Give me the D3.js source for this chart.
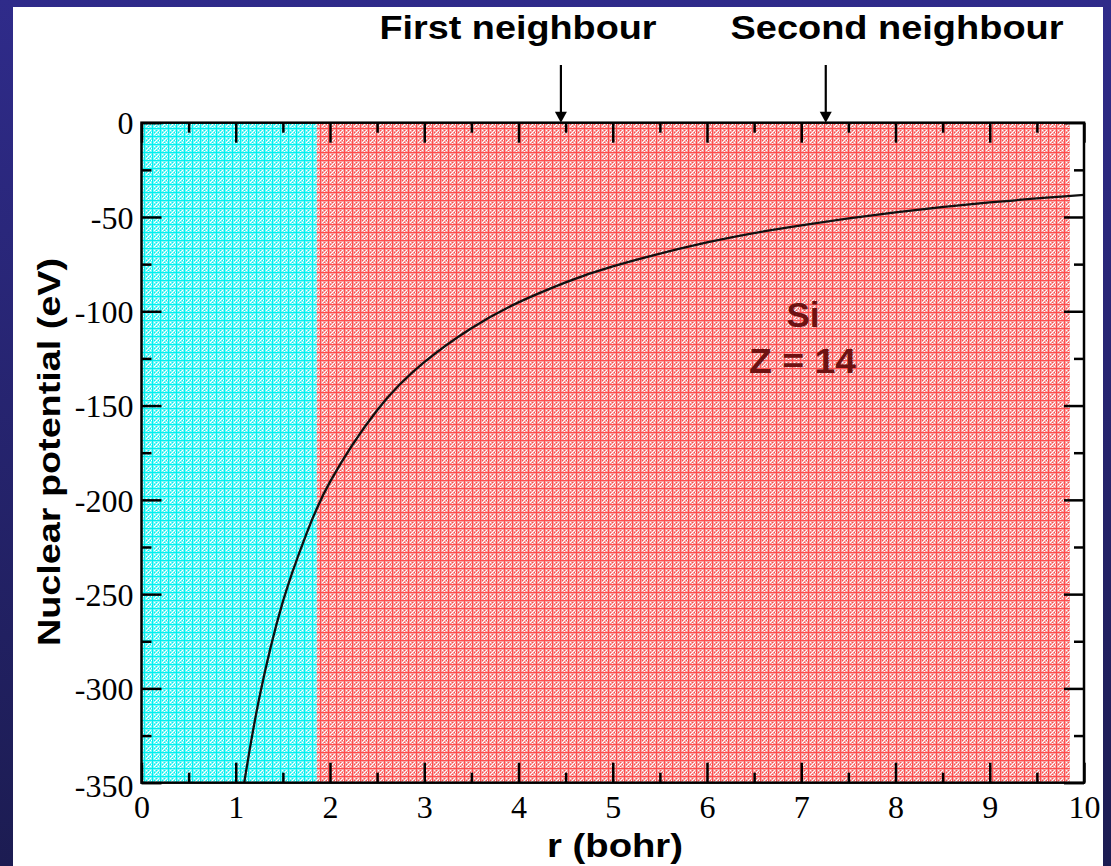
<!DOCTYPE html>
<html>
<head>
<meta charset="utf-8">
<script src="https://cdn.jsdelivr.net/npm/d3@7"></script>
<style>
  html, body { margin: 0; padding: 0; background: #2a2878; }
  svg { display: block; }
</style>
</head>
<body>
<svg id="chart" width="1111" height="866"></svg>
<script>
// Nuclear potential of Si (Z = 14) versus radial distance
const rValues = [1.09, 1.25, 1.5, 1.75, 2.0, 2.5, 3.0, 3.5, 4.0, 4.5, 5.0, 6.0, 7.0, 8.0, 9.0, 10.0];
const potential = [-350, -305, -254, -218, -190.5, -152.5, -127, -109, -95.3, -84.7, -76.2, -63.5, -54.4, -47.6, -42.3, -38.3];

// Shaded regions along r: core (cyan) and outer (red)
const regions = [
  { name: "core", from: 0, to: 1.86 },
  { name: "outer", from: 1.86, to: 9.85 }
];

// Neighbour shell markers
const neighbourLabels = ["First neighbour", "Second neighbour"];
const neighbourR = [4.45, 7.26];

const xTicks = [0, 1, 2, 3, 4, 5, 6, 7, 8, 9, 10];
const yTicks = [0, -50, -100, -150, -200, -250, -300, -350];

const svg = d3.select("#chart");
const W = 1111, H = 866;

const defs = svg.append("defs");

// Slide background: blue gradient frame
const bg = defs.append("linearGradient").attr("id", "bgGrad")
  .attr("x1", 0).attr("y1", 0).attr("x2", 0).attr("y2", 1);
bg.append("stop").attr("offset", "0%").attr("stop-color", "#2f2b8a");
bg.append("stop").attr("offset", "100%").attr("stop-color", "#1c1c52");

// Dithered fill patterns
function makePattern(id, base, solid) {
  const p = defs.append("pattern").attr("id", id)
    .attr("patternUnits", "userSpaceOnUse")
    .attr("width", 8).attr("height", 8);
  p.append("rect").attr("width", 8).attr("height", 8).attr("fill", base);
  p.append("rect").attr("x", 0).attr("y", 0).attr("width", 1).attr("height", 8).attr("fill", solid);
  p.append("rect").attr("x", 0).attr("y", 0).attr("width", 8).attr("height", 1).attr("fill", solid);
  const whites = [[2, 2], [4, 4], [6, 2], [2, 6], [6, 6], [3, 5], [5, 3], [7, 4], [4, 7]];
  whites.forEach(([x, y]) => p.append("rect").attr("x", x).attr("y", y)
    .attr("width", 1).attr("height", 1).attr("fill", "#ffffff"));
  const solids = [[4, 2], [2, 4], [6, 4], [4, 6]];
  solids.forEach(([x, y]) => p.append("rect").attr("x", x).attr("y", y)
    .attr("width", 1).attr("height", 1).attr("fill", solid));
}
makePattern("cyanFill", "#7af6f6", "#00f0f0");
makePattern("redFill", "#f6a4a4", "#ff4c4c");

svg.append("rect").attr("width", W).attr("height", H).attr("fill", "url(#bgGrad)");
svg.append("rect").attr("x", 13).attr("y", 7).attr("width", 1090).attr("height", H - 7).attr("fill", "#ffffff");

const plot = { left: 141.5, right: 1084, top: 122.7, bottom: 782.7 };

const x = d3.scaleLinear().domain([0, 10]).range([plot.left, plot.right]);
const y = d3.scaleLinear().domain([-350, 0]).range([plot.bottom, plot.top]);

defs.append("clipPath").attr("id", "plotClip")
  .append("rect")
  .attr("x", plot.left).attr("y", plot.top)
  .attr("width", plot.right - plot.left).attr("height", plot.bottom - plot.top);

// Region fills
svg.append("g").selectAll("rect").data(regions).join("rect")
  .attr("x", d => x(d.from))
  .attr("width", d => x(d.to) - x(d.from))
  .attr("y", y(0))
  .attr("height", y(-350) - y(0))
  .attr("fill", d => d.name === "core" ? "url(#cyanFill)" : "url(#redFill)");

// Axes with inward ticks on all four sides
const sansBold = "'Liberation Sans', Arial, Helvetica, sans-serif";
const serif = "'Liberation Serif', 'Times New Roman', Times, serif";

function styleAxis(g) {
  g.select(".domain").remove();
  g.selectAll(".tick line").attr("stroke", "#000").attr("stroke-width", 2.5);
}

const xMinor = d3.range(0.5, 10, 1);
const yMinor = d3.range(-325, 0, 50);

function tickAxis(axisFn, scale, transform, values, size, labels) {
  const a = axisFn(scale).tickValues(values).tickSizeInner(-size).tickSizeOuter(0);
  if (!labels) a.tickFormat("");
  const g = svg.append("g").attr("transform", transform).call(a);
  styleAxis(g);
  return g;
}

// bottom
const gxb = tickAxis(d3.axisBottom, x, `translate(0,${plot.bottom})`, xTicks, 20, true);
gxb.selectAll(".tick text")
  .attr("font-family", serif).attr("font-size", 32).attr("fill", "#000")
  .attr("y", 35).attr("dy", 0).attr("dominant-baseline", "auto");
tickAxis(d3.axisBottom, x, `translate(0,${plot.bottom})`, xMinor, 10, false);
// top
tickAxis(d3.axisTop, x, `translate(0,${plot.top})`, xTicks, 20, false);
tickAxis(d3.axisTop, x, `translate(0,${plot.top})`, xMinor, 10, false);
// left
const gyl = tickAxis(d3.axisLeft, y, `translate(${plot.left},0)`, yTicks, 20, true);
gyl.selectAll(".tick text")
  .attr("font-family", serif).attr("font-size", 32).attr("fill", "#000")
  .attr("x", -8).attr("dy", "0.35em")
  .text(d => d === 0 ? "0" : d3.format("d")(d).replace("−", "-"));
gyl.selectAll(".tick").filter(d => d === -350).select("text").attr("dy", "0.42em");
tickAxis(d3.axisLeft, y, `translate(${plot.left},0)`, yMinor, 10, false);
// right
tickAxis(d3.axisRight, y, `translate(${plot.right},0)`, yTicks, 20, false);
tickAxis(d3.axisRight, y, `translate(${plot.right},0)`, yMinor, 10, false);

// Potential curve
const pts = rValues.map((r, i) => [r, potential[i]]);
const line = d3.line().x(d => x(d[0])).y(d => y(d[1])).curve(d3.curveNatural);
svg.append("path")
  .attr("d", line(pts))
  .attr("clip-path", "url(#plotClip)")
  .attr("fill", "none")
  .attr("stroke", "#111")
  .attr("stroke-width", 2.3);

// Plot frame
svg.append("rect")
  .attr("x", plot.left).attr("y", plot.top)
  .attr("width", plot.right - plot.left).attr("height", plot.bottom - plot.top)
  .attr("fill", "none").attr("stroke", "#000").attr("stroke-width", 2.5);

// Axis titles
svg.append("text")
  .attr("x", 615).attr("y", 857)
  .attr("text-anchor", "middle")
  .attr("font-family", sansBold).attr("font-weight", "bold").attr("font-size", 33)
  .attr("textLength", 136).attr("lengthAdjust", "spacingAndGlyphs")
  .text("r (bohr)");

svg.append("text")
  .attr("transform", "translate(60,452) rotate(-90)")
  .attr("text-anchor", "middle")
  .attr("font-family", sansBold).attr("font-weight", "bold").attr("font-size", 32)
  .attr("textLength", 388).attr("lengthAdjust", "spacingAndGlyphs")
  .text("Nuclear potential (eV)");

// Neighbour labels and arrows
const labelLen = [277, 333];
const labelCx = [518, 897];
const ng = svg.append("g");
neighbourR.forEach((r, i) => {
  ng.append("text")
    .attr("x", labelCx[i]).attr("y", 39)
    .attr("text-anchor", "middle")
    .attr("font-family", sansBold).attr("font-weight", "bold").attr("font-size", 33)
    .attr("textLength", labelLen[i]).attr("lengthAdjust", "spacingAndGlyphs")
    .text(neighbourLabels[i]);
  const xr = x(r);
  ng.append("line")
    .attr("x1", xr).attr("x2", xr).attr("y1", 65).attr("y2", plot.top - 6)
    .attr("stroke", "#000").attr("stroke-width", 2.2);
  ng.append("path")
    .attr("d", `M${xr - 6},${plot.top - 11} L${xr + 6},${plot.top - 11} L${xr},${plot.top} Z`)
    .attr("fill", "#000");
});

// Element annotation
const annot = svg.append("g")
  .attr("font-family", sansBold).attr("font-weight", "bold").attr("font-size", 35)
  .attr("fill", "#6e1212").attr("text-anchor", "middle");
annot.append("text").attr("x", 803).attr("y", 327).text("Si");
annot.append("text").attr("x", 802.5).attr("y", 373)
  .attr("textLength", 107).attr("lengthAdjust", "spacingAndGlyphs")
  .text("Z = 14");
</script>
</body>
</html>
